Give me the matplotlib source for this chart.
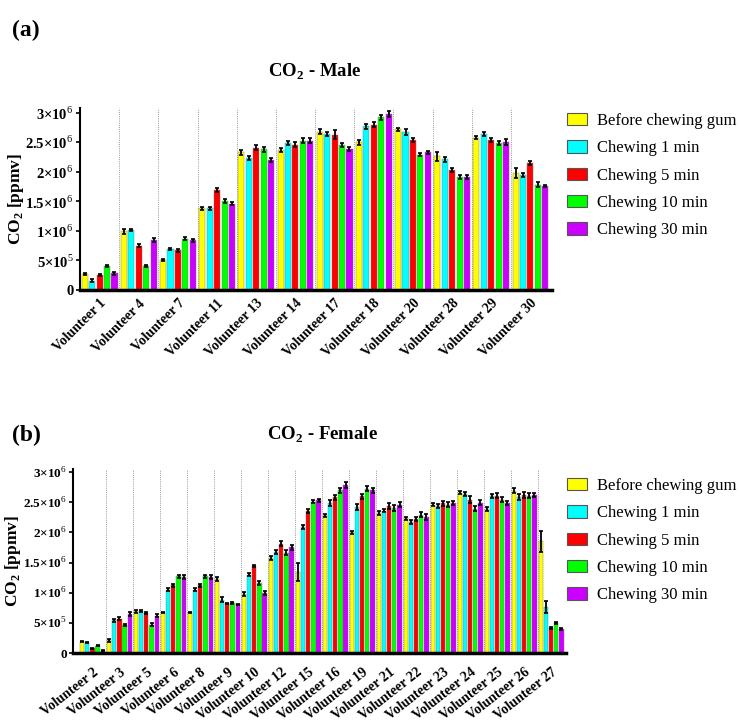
import matplotlib
matplotlib.use('Agg')
import matplotlib.pyplot as plt
from matplotlib.patches import Patch
import numpy as np

plt.rcParams['font.family'] = ['Liberation Serif', 'DejaVu Serif']
plt.rcParams['mathtext.fontset'] = 'custom'
plt.rcParams['mathtext.rm'] = 'Liberation Serif'
plt.rcParams['mathtext.bf'] = 'Liberation Serif:bold'

series = ['Before chewing gum', 'Chewing 1 min', 'Chewing 5 min', 'Chewing 10 min', 'Chewing 30 min']
colors = ['#ffff00', '#00ffff', '#ff0000', '#00ff00', '#cc00ff']

yticks = [0, 0.5e6, 1e6, 1.5e6, 2e6, 2.5e6, 3e6]
ytick_labels = ['0', '5×10$^{5}$', '1×10$^{6}$', '1.5×10$^{6}$', '2×10$^{6}$', '2.5×10$^{6}$', '3×10$^{6}$']

# male panel, values in 10^6 ppmv
male_names = ['Volunteer 1', 'Volunteer 4', 'Volunteer 7', 'Volunteer 11', 'Volunteer 13', 'Volunteer 14',
              'Volunteer 17', 'Volunteer 18', 'Volunteer 20', 'Volunteer 28', 'Volunteer 29', 'Volunteer 30']
male_before = [0.27, 0.99, 0.51, 1.38, 2.33, 2.37, 2.68, 2.50, 2.72, 2.26, 2.58, 1.98]
male_1min   = [0.16, 1.02, 0.69, 1.38, 2.23, 2.49, 2.64, 2.77, 2.68, 2.21, 2.64, 1.95]
male_5min   = [0.25, 0.75, 0.67, 1.69, 2.41, 2.46, 2.63, 2.80, 2.54, 2.03, 2.54, 2.15]
male_10min  = [0.41, 0.41, 0.87, 1.51, 2.38, 2.53, 2.45, 2.92, 2.29, 1.91, 2.49, 1.78]
male_30min  = [0.28, 0.85, 0.84, 1.46, 2.20, 2.53, 2.39, 2.98, 2.33, 1.91, 2.51, 1.76]
male_err = [
    [0.02, 0.04, 0.02, 0.02, 0.04, 0.03, 0.04, 0.04, 0.03, 0.07, 0.03, 0.08],
    [0.02, 0.02, 0.02, 0.02, 0.03, 0.04, 0.04, 0.04, 0.05, 0.04, 0.03, 0.03],
    [0.02, 0.02, 0.02, 0.03, 0.04, 0.04, 0.07, 0.04, 0.03, 0.04, 0.04, 0.03],
    [0.02, 0.02, 0.02, 0.03, 0.04, 0.04, 0.03, 0.04, 0.03, 0.03, 0.03, 0.04],
    [0.02, 0.03, 0.02, 0.03, 0.03, 0.04, 0.03, 0.05, 0.03, 0.03, 0.05, 0.02],
]

# female panel, values in 10^6 ppmv
female_names = ['Volunteer 2', 'Volunteer 3', 'Volunteer 5', 'Volunteer 6', 'Volunteer 8', 'Volunteer 9',
                'Volunteer 10', 'Volunteer 12', 'Volunteer 15', 'Volunteer 16', 'Volunteer 19', 'Volunteer 21',
                'Volunteer 22', 'Volunteer 23', 'Volunteer 24', 'Volunteer 25', 'Volunteer 26', 'Volunteer 27']
female_before = [0.19, 0.21, 0.69, 0.67, 0.67, 1.23, 0.98, 1.57, 1.35, 2.28, 2.00, 2.32, 2.23, 2.46, 2.66, 2.39, 2.69, 1.85]
female_1min   = [0.18, 0.54, 0.70, 1.05, 1.05, 0.88, 1.30, 1.67, 2.09, 2.48, 2.42, 2.36, 2.17, 2.44, 2.64, 2.60, 2.58, 0.76]
female_5min   = [0.08, 0.57, 0.66, 1.12, 1.12, 0.82, 1.44, 1.81, 2.35, 2.58, 2.60, 2.44, 2.22, 2.48, 2.54, 2.61, 2.62, 0.41]
female_10min  = [0.12, 0.46, 0.47, 1.27, 1.27, 0.83, 1.16, 1.66, 2.51, 2.70, 2.72, 2.40, 2.29, 2.46, 2.39, 2.54, 2.61, 0.50]
female_30min  = [0.04, 0.65, 0.62, 1.26, 1.26, 0.81, 0.99, 1.75, 2.53, 2.79, 2.70, 2.46, 2.25, 2.49, 2.49, 2.49, 2.62, 0.40]
female_err = [
    [0.01, 0.02, 0.02, 0.01, 0.01, 0.03, 0.03, 0.03, 0.15, 0.03, 0.02, 0.03, 0.03, 0.03, 0.03, 0.03, 0.04, 0.17],
    [0.01, 0.03, 0.02, 0.02, 0.02, 0.04, 0.03, 0.03, 0.04, 0.05, 0.05, 0.03, 0.03, 0.03, 0.03, 0.03, 0.05, 0.10],
    [0.01, 0.02, 0.02, 0.03, 0.03, 0.01, 0.02, 0.04, 0.03, 0.04, 0.04, 0.05, 0.03, 0.04, 0.06, 0.04, 0.05, 0.02],
    [0.01, 0.02, 0.02, 0.03, 0.03, 0.02, 0.03, 0.04, 0.03, 0.04, 0.04, 0.05, 0.04, 0.04, 0.04, 0.04, 0.04, 0.02],
    [0.01, 0.03, 0.03, 0.03, 0.03, 0.01, 0.03, 0.04, 0.03, 0.05, 0.04, 0.04, 0.05, 0.03, 0.04, 0.03, 0.04, 0.02],
]


def draw_panel(ax, names, vals, errs, rot, left_pad, xpad, label_x, ytick_size):
    n = len(names)
    x = np.arange(n)
    pitch = 0.19
    for k in range(5):
        v = np.array(vals[k]) * 1e6
        e = np.array(errs[k]) * 1e6
        xs = x + (k - 2) * pitch
        ax.bar(xs, v, width=0.155, color=colors[k], edgecolor='#777777', linewidth=0.3, zorder=2)
        ax.errorbar(xs, v, yerr=e, fmt='none', ecolor='black', elinewidth=1.3,
                    capsize=1.3, capthick=1.2, zorder=3)
    for i in range(n - 1):
        ax.axvline(i + 0.5, color='#999999', ls=(0, (1, 1.2)), lw=0.7, zorder=1)
    ax.set_xlim(-0.5 - left_pad, n - 0.5 + 0.05)
    ax.set_xticks(x)
    ax.set_xticklabels(names, rotation=rot, ha='right', rotation_mode='anchor',
                       fontsize=10, fontweight='bold')
    ax.tick_params(axis='x', length=0, pad=xpad)
    ax.set_yticks(yticks)
    ax.set_yticklabels(ytick_labels, fontsize=ytick_size, fontweight='bold')
    ax.tick_params(axis='y', length=3, width=1.2, pad=1.5)
    ax.spines['top'].set_visible(False)
    ax.spines['right'].set_visible(False)
    ax.spines['left'].set_linewidth(1.5)
    ax.spines['bottom'].set_linewidth(2.5)
    ax.set_ylabel('CO$_{\\mathbf{2}}$ [ppmv]', fontsize=12.5, fontweight='bold')
    ax.yaxis.set_label_coords(label_x, 0.5)


fig = plt.figure(figsize=(7.4, 7.26), dpi=100)

ax1 = fig.add_axes([80 / 740, 1 - 290 / 726, 472 / 740, 182 / 726])
draw_panel(ax1, male_names, [male_before, male_1min, male_5min, male_10min, male_30min],
           male_err, 45, 0.0, 5, (26 - 80) / 472, 10.5)
ax1.set_ylim(0, 3.08e6)

ax2 = fig.add_axes([73 / 740, 1 - 653 / 726, 493 / 740, 184 / 726])
draw_panel(ax2, female_names, [female_before, female_1min, female_5min, female_10min, female_30min],
           female_err, 38, 0.22, 9, (23 - 73) / 493, 9.5)
ax2.set_ylim(0, 3.05e6)

fig.text(315 / 740, 1 - 72 / 726, 'CO$_{\\mathbf{2}}$ - Male', ha='center', va='center',
         fontsize=13.5, fontweight='bold')
fig.text(322 / 740, 1 - 435 / 726, 'CO$_{\\mathbf{2}}$ - Female', ha='center', va='center',
         fontsize=13.5, fontweight='bold')
fig.text(12 / 740, 1 - 30 / 726, '(a)', ha='left', va='center', fontsize=17, fontweight='bold')
fig.text(12 / 740, 1 - 435 / 726, '(b)', ha='left', va='center', fontsize=17, fontweight='bold')

handles = [Patch(facecolor=c, edgecolor='#555555', linewidth=0.8) for c in colors]
for ytop in [113, 478]:
    fig.legend(handles, series, loc='upper left', bbox_to_anchor=(567 / 740, 1 - ytop / 726),
               bbox_transform=fig.transFigure, frameon=False, fontsize=12,
               handlelength=1.2, handleheight=0.75, handletextpad=0.6,
               labelspacing=0.68, borderpad=0, borderaxespad=0)

fig.savefig('out.png', dpi=100)
